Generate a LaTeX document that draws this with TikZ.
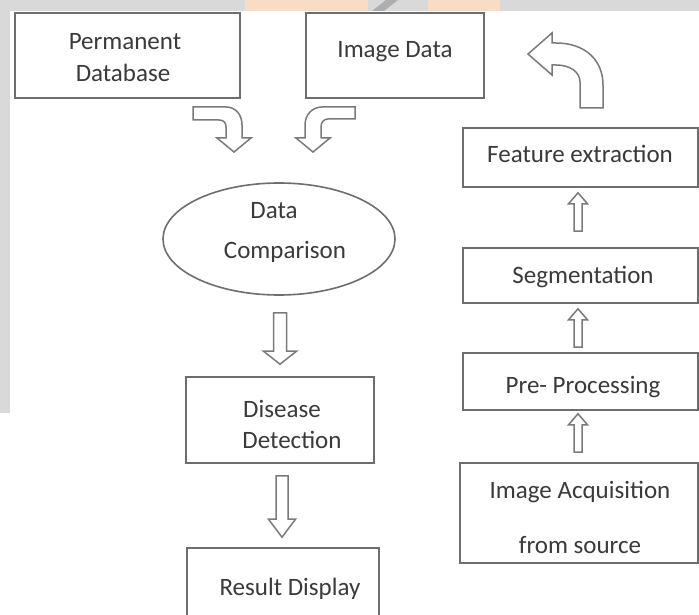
\documentclass[tikz,border=0pt]{standalone}
\usepackage{fontspec}
\setmainfont{Carlito}
\usetikzlibrary{shapes.geometric,calc}
\definecolor{edgec}{HTML}{6E6E6E}
\definecolor{arrowc}{HTML}{7A7A7A}
\definecolor{txt}{HTML}{3A3A3A}
\definecolor{strip}{HTML}{D9D9D9}
\definecolor{wm}{HTML}{F9DCC6}
% vertical hollow block arrow: tail, tip, shaft half width, head half width, signed head length (canvas)
\newcommand\vblk[5]{%
  \draw[blk] let \p1=(#1), \p2=(#2) in
    ({\x1-#3},\y1) -- ({\x1-#3},{\y2-(#5)}) -- ({\x1-#4},{\y2-(#5)}) -- (\x1,\y2)
    -- ({\x1+#4},{\y2-(#5)}) -- ({\x1+#3},{\y2-(#5)}) -- ({\x1+#3},\y1) -- cycle;}
\begin{document}
\begin{tikzpicture}[x=1bp,y=-1bp,
  box/.style={draw=edgec,line width=1.6bp,fill=white,inner sep=0pt,rectangle},
  oval/.style={ellipse,draw=edgec,line width=1.6bp,fill=white,inner sep=0pt},
  lbl/.style={anchor=base,inner sep=0pt,text=txt,font=\fontsize{25bp}{30bp}\selectfont},
  blk/.style={draw=arrowc,line width=1.5bp,fill=white,line join=miter}]
\useasboundingbox (0,0) rectangle (699,615);
\clip (0,0) rectangle (699,615);
\fill[white] (0,0) rectangle (699,615);
% background strips (page edge)
\fill[strip] (0,0) rectangle (699,11);
\fill[strip] (0,0) rectangle (10,413);
\fill[wm] (245,0) rectangle (368,11);
\fill[wm] (428,0) rectangle (500,11);
\fill[strip!80!black] (372,11) -- (386,0) -- (398,0) -- (384,11) -- cycle;

% shapes
\node[box,minimum width=225bp,minimum height=85bp] (pd) at (127.5,55.5) {};
\node[box,minimum width=178bp,minimum height=85bp] (id) at (395,55.5) {};
\node[oval,minimum width=232bp,minimum height=112bp] (dc) at (279,239) {};
\node[box,minimum width=188bp,minimum height=86bp] (dd) at (280,420) {};
\node[box,minimum width=192bp,minimum height=92bp] (rd) at (283,594) {};
\node[box,minimum width=235bp,minimum height=59bp] (fe) at (580.5,157.5) {};
\node[box,minimum width=235bp,minimum height=55bp] (seg) at (580.5,275.5) {};
\node[box,minimum width=235bp,minimum height=57bp] (pp) at (580.5,381.5) {};
\node[box,minimum width=238bp,minimum height=100bp] (ia) at (579,513) {};

% texts
\node[lbl] (pdt1) at (125,50) {Permanent};
\node[lbl] (pdt2) at (123,82) {Database};
\node[lbl] (idt) at (395,58) {Image Data};
\node[lbl] (dct1) at (274,218) {Data};
\node[lbl] (dct2) at (285,258) {Comparison};
\node[lbl] (ddt1) at (282,417) {Disease};
\node[lbl] (ddt2) at (292,448) {Detection};
\node[lbl] (rdt) at (290,595) {Result Display};
\node[lbl] (fet) at (580,163) {Feature extraction};
\node[lbl] (segt) at (583,283) {Segmentation};
\node[lbl] (ppt) at (583,393) {Pre- Processing};
\node[lbl] (iat1) at (580,498) {Image Acquisition};
\node[lbl] (iat2) at (580,553) {from source};

% straight block arrows
\vblk{$(dc.south)+(1,17)$}{$(dd.north)+(0,-12)$}{6.5bp}{16.5bp}{-13bp}
\vblk{$(dd.south)+(2,12)$}{$(rd.north)+(0,-10)$}{6bp}{13.5bp}{-18bp}
\vblk{$(seg.north)+(-2.5,-16)$}{$(fe.south)+(-2.5,5)$}{4bp}{9.5bp}{11bp}
\vblk{$(pp.north)+(-2.5,-5)$}{$(seg.south)+(-2.5,5)$}{4bp}{9.5bp}{11bp}
\vblk{$(ia.north)+(-1,-10)$}{$(pp.south)+(-2.5,3)$}{4bp}{9.5bp}{11bp}

% curved block arrows
\draw[blk] (193,107) -- (226,107) .. controls (236,107) and (242,115) .. (242,125)
  -- (242,138) -- (251,138) -- (234,152) -- (217,138) -- (226,138) -- (226,127)
  .. controls (226,122) and (223,120) .. (219,120) -- (193,120) -- cycle;
\draw[blk] (355,107) -- (322,107) .. controls (312,107) and (305,115) .. (305,125)
  -- (305,138) -- (296,138) -- (313,152) -- (330,138) -- (321,138) -- (321,127)
  .. controls (321,122) and (324,119) .. (328,119) -- (355,119) -- cycle;
\draw[blk] (580,108) -- (603,108) -- (603,85) .. controls (603,60) and (585,43) .. (556,43)
  -- (552,43) -- (552,33) -- (528,54) -- (552,75) -- (552,65) -- (556,65)
  .. controls (570,65) and (580,72) .. (580,82) -- cycle;
\end{tikzpicture}
\end{document}
